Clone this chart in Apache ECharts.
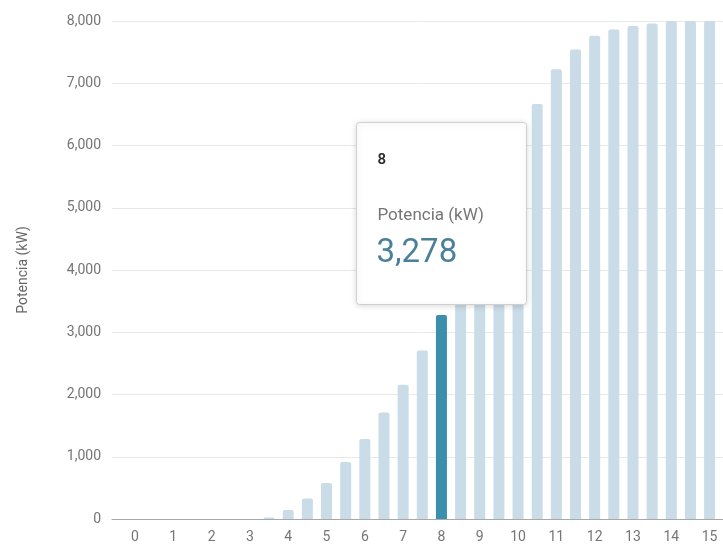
<!DOCTYPE html>
<html>
<head>
<meta charset="utf-8">
<title>Curva de potencia</title>
<script src="https://cdn.jsdelivr.net/npm/echarts@6/dist/echarts.min.js"></script>
<style>
  html, body { margin: 0; padding: 0; background: #ffffff; }
  #chart { width: 723px; height: 547px; }
</style>
</head>
<body>
<div id="chart"></div>
<script>
// Wind speed (m/s) and turbine output (kW)
const windSpeeds = [0, 0.5, 1, 1.5, 2, 2.5, 3, 3.5, 4, 4.5, 5, 5.5, 6, 6.5, 7, 7.5,
                    8, 8.5, 9, 9.5, 10, 10.5, 11, 11.5, 12, 12.5, 13, 13.5, 14, 14.5, 15];
const powerKW = [0, 0, 0, 0, 0, 0, 0, 25, 145, 330, 578, 915, 1284, 1711, 2156, 2706,
                 3278, 3900, 4560, 5260, 5980, 6666, 7223, 7544, 7762, 7865, 7918, 7961, 8000, 8000, 8000];
const speedTicks = [0, 1, 2, 3, 4, 5, 6, 7, 8, 9, 10, 11, 12, 13, 14, 15];
const seriesName = 'Potencia (kW)';
const selectedSpeed = 8;

const fmt = v => Number(v).toLocaleString('en-US');
const selIdx = windSpeeds.indexOf(selectedSpeed);

const chart = echarts.init(document.getElementById('chart'), null, { renderer: 'canvas' });

const barData = windSpeeds.map((s, i) => {
  const item = { value: [s, powerKW[i]] };
  if (i === selIdx) item.itemStyle = { color: '#3a8fad' };
  return item;
});

chart.setOption({
  animation: false,
  textStyle: { fontFamily: 'Roboto, sans-serif' },
  grid: { left: 112, right: 0, top: 21, bottom: 28 },
  xAxis: {
    type: 'value',
    min: -0.6,
    max: 15.35,
    axisLine: { show: true, lineStyle: { color: '#a8a8a8', width: 1 } },
    axisTick: { show: false },
    splitLine: { show: false },
    axisLabel: {
      customValues: speedTicks,
      color: '#757575',
      fontSize: 14,
      margin: 11,
      formatter: v => String(v)
    }
  },
  yAxis: {
    type: 'value',
    min: 0,
    max: 8000,
    interval: 1000,
    name: seriesName,
    nameLocation: 'middle',
    nameGap: 82,
    nameTextStyle: { color: '#666666', fontSize: 14 },
    axisLine: { show: false },
    axisTick: { show: false },
    splitLine: { lineStyle: { color: '#e8e8e8', width: 1 } },
    axisLabel: { color: '#757575', fontSize: 14, margin: 11, formatter: fmt }
  },
  series: [{
    name: seriesName,
    type: 'bar',
    barWidth: 11,
    itemStyle: { color: '#c9dce7', borderRadius: [2, 2, 0, 0] },
    data: barData
  }],
  graphic: [{
    type: 'group',
    left: 356,
    top: 122,
    z: 100,
    children: [
      {
        type: 'rect',
        z: 100,
        shape: { x: 0, y: 0, width: 170, height: 182, r: 3 },
        style: {
          fill: '#ffffff', stroke: '#cfcfcf', lineWidth: 1,
          shadowBlur: 6, shadowColor: 'rgba(0,0,0,0.15)', shadowOffsetY: 1
        }
      },
      {
        type: 'text',
        z: 101,
        style: {
          x: 21, y: 38, text: String(windSpeeds[selIdx]),
          fill: '#2b2b2b', font: '600 15px Roboto, sans-serif', verticalAlign: 'middle'
        }
      },
      {
        type: 'text',
        z: 101,
        style: {
          x: 21, y: 93, text: seriesName,
          fill: '#757575', font: '17px Roboto, sans-serif', verticalAlign: 'middle'
        }
      },
      {
        type: 'text',
        z: 101,
        style: {
          x: 20, y: 131, text: fmt(powerKW[selIdx]),
          fill: '#4a8099', font: '33px Roboto, sans-serif', verticalAlign: 'middle'
        }
      }
    ]
  }]
});
</script>
</body>
</html>
